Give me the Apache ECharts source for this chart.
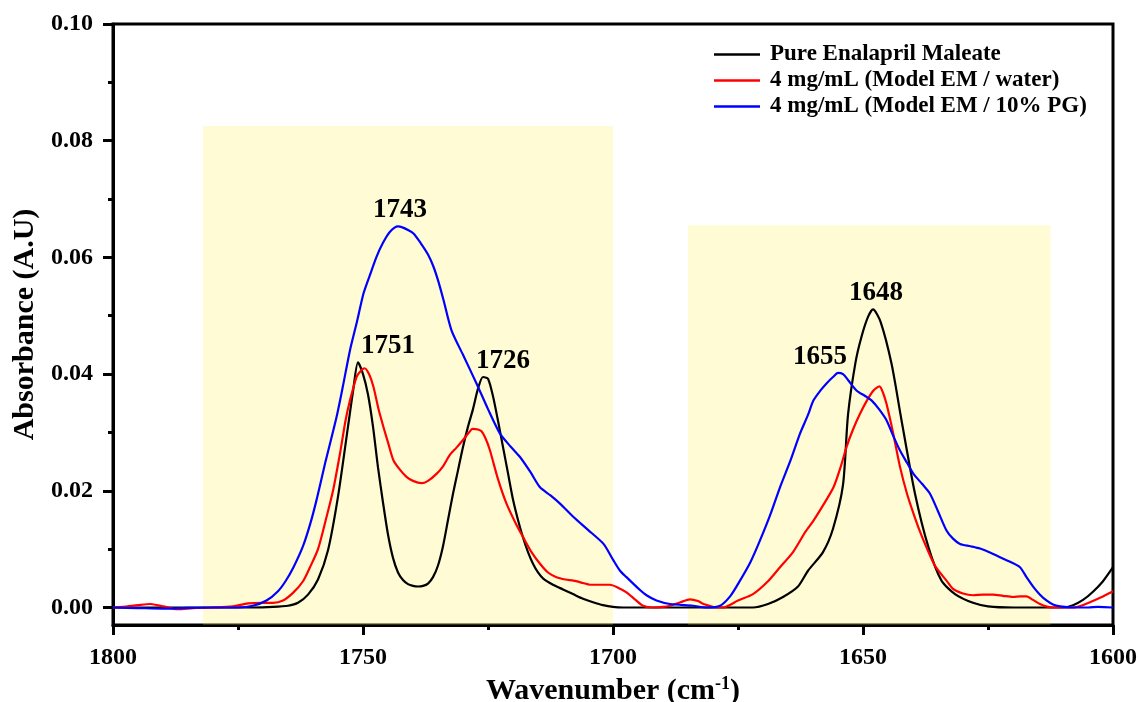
<!DOCTYPE html>
<html>
<head>
<meta charset="utf-8">
<script src="https://cdn.jsdelivr.net/npm/echarts@6/dist/echarts.min.js"></script>
<style>
  html, body { margin: 0; padding: 0; background: #fff; }
  #chart { width: 1141px; height: 702px; }
</style>
</head>
<body>
<div id="chart"></div>
<script>
// FTIR spectra in the carbonyl / amide region (1800–1600 cm-1)

const seriesNames = [
  'Pure Enalapril Maleate',
  '4 mg/mL (Model EM / water)',
  '4 mg/mL (Model EM / 10% PG)'
];

// Pure Enalapril Maleate
const pureWn = [1800, 1790, 1780, 1772, 1768, 1765, 1763, 1761, 1759, 1757, 1755, 1753, 1752, 1751, 1750, 1749, 1748, 1747, 1746, 1745, 1744, 1743, 1742, 1741, 1740, 1739, 1738, 1737, 1736, 1735, 1734, 1733, 1732, 1731, 1730, 1729, 1728, 1727, 1726, 1725, 1724, 1723, 1722, 1721, 1720, 1719, 1718, 1717, 1716, 1715, 1714, 1712, 1710, 1708, 1706, 1704, 1702, 1700, 1698, 1690, 1680, 1672, 1669, 1666, 1663, 1661, 1658, 1656, 1654, 1653, 1651.5, 1650.3, 1649, 1648, 1646.5, 1644.3, 1642.3, 1639.6, 1636.9, 1634.3, 1631.6, 1628, 1625, 1620, 1610, 1608, 1606, 1604, 1602, 1600];
const pureAbs = [0, 0, 0, 0, 0.0001, 0.0003, 0.0008, 0.0022, 0.0048, 0.0098, 0.019, 0.031, 0.037, 0.042, 0.040, 0.0365, 0.031, 0.024, 0.018, 0.0125, 0.0085, 0.006, 0.0047, 0.0040, 0.0037, 0.0036, 0.0037, 0.0041, 0.0052, 0.0072, 0.0105, 0.0150, 0.0195, 0.0235, 0.0275, 0.031, 0.034, 0.0375, 0.0395, 0.0392, 0.0362, 0.032, 0.0275, 0.023, 0.0185, 0.0150, 0.0120, 0.0095, 0.0075, 0.0060, 0.0050, 0.0039, 0.0031, 0.0023, 0.0015, 0.0009, 0.0004, 0.0001, 0, 0, 0, 0, 0.0006, 0.0018, 0.0036, 0.0063, 0.0095, 0.0135, 0.021, 0.033, 0.042, 0.0464, 0.0498, 0.0511, 0.049, 0.0418, 0.0321, 0.0195, 0.0103, 0.0046, 0.0023, 0.0008, 0.0002, 0, 0, 0.0004, 0.0013, 0.0027, 0.0045, 0.0069];

// 4 mg/mL (Model EM / water)
const waterWn = [1800, 1798, 1795, 1792.5, 1790, 1787, 1784, 1780, 1776, 1773, 1770, 1768, 1766, 1764, 1762, 1760.6, 1759, 1757.3, 1756, 1754.6, 1753.5, 1752.6, 1751.3, 1750.5, 1749.7, 1748.8, 1747.9, 1746.9, 1745.9, 1744.9, 1743.9, 1742.5, 1741.3, 1740, 1738.3, 1737, 1735.3, 1734, 1732.6, 1731.3, 1730, 1728.8, 1728.1, 1727, 1726.3, 1725.5, 1724.6, 1723, 1721.3, 1719.5, 1718, 1716.3, 1714.6, 1713, 1711.3, 1709.5, 1707.9, 1706, 1704.6, 1702.5, 1700.6, 1699, 1697.3, 1695.5, 1694, 1692, 1690, 1688.6, 1686.5, 1684.6, 1683, 1681.9, 1679.3, 1678, 1675, 1672, 1669, 1666.6, 1664, 1661.5, 1659.9, 1658, 1655.9, 1654.5, 1653.3, 1652, 1650.6, 1649.2, 1647.9, 1646.7, 1646, 1645.3, 1644, 1642.6, 1641.2, 1639.9, 1638.6, 1637.3, 1635.5, 1633.3, 1632, 1630, 1628, 1626, 1624, 1622, 1620, 1618.5, 1617.3, 1616, 1614.6, 1613, 1611.9, 1608, 1606, 1604.6, 1602.5, 1600];
const waterAbs = [0, 0.0001, 0.0004, 0.0006, 0.0002, -0.0003, -0.0001, 0, 0.0002, 0.0007, 0.0008, 0.0008, 0.0012, 0.0025, 0.0045, 0.0069, 0.0100, 0.0155, 0.0200, 0.0264, 0.0320, 0.0355, 0.0395, 0.0405, 0.0410, 0.0400, 0.0378, 0.0340, 0.0309, 0.0280, 0.0252, 0.0235, 0.0224, 0.0217, 0.0213, 0.0217, 0.0229, 0.0242, 0.0262, 0.0274, 0.0287, 0.0300, 0.0306, 0.0305, 0.0302, 0.0290, 0.0269, 0.0220, 0.0178, 0.0145, 0.0121, 0.0095, 0.0075, 0.0060, 0.0052, 0.0048, 0.0046, 0.0042, 0.0039, 0.0039, 0.0039, 0.0034, 0.0026, 0.0013, 0.0003, 0, 0.0001, 0.0003, 0.0009, 0.0014, 0.0011, 0.0006, 0, 0, 0.0012, 0.0023, 0.0045, 0.0069, 0.0095, 0.0130, 0.0149, 0.0175, 0.0206, 0.0240, 0.0275, 0.0305, 0.0332, 0.0355, 0.0372, 0.0379, 0.0368, 0.0349, 0.0300, 0.0241, 0.0195, 0.0161, 0.0130, 0.0103, 0.0070, 0.0046, 0.0032, 0.0024, 0.0021, 0.0022, 0.0022, 0.0020, 0.0018, 0.0019, 0.0019, 0.0013, 0.0006, 0.0001, 0, 0, 0.0004, 0.0009, 0.0017, 0.0028];

// 4 mg/mL (Model EM / 10% PG)
const pgWn = [1800, 1795, 1790, 1786, 1780, 1775, 1772, 1769.3, 1767, 1765.5, 1763.9, 1762, 1760.5, 1759.3, 1757.5, 1755.3, 1754, 1752.6, 1751.2, 1749.9, 1748.6, 1747.3, 1746, 1744.6, 1743, 1742, 1741, 1739.9, 1738.5, 1737, 1735.9, 1734.9, 1733.9, 1732.3, 1730, 1727.3, 1725, 1722.6, 1720.5, 1718.6, 1716.5, 1714.6, 1712.5, 1710.6, 1707.9, 1705, 1701.9, 1700, 1698.6, 1697.3, 1694.6, 1693.3, 1691.3, 1688.6, 1684, 1681.3, 1678.6, 1676.5, 1674.6, 1672.5, 1670.6, 1668.5, 1666.6, 1664.5, 1662.6, 1661, 1659.9, 1658.5, 1657.3, 1656, 1655, 1654, 1653, 1651.3, 1649.5, 1648.3, 1646.8, 1645.3, 1644, 1642.6, 1641.2, 1639.9, 1638.2, 1636.6, 1635, 1633.3, 1632, 1630.6, 1628.5, 1626.6, 1624.5, 1622.6, 1620.5, 1618.6, 1617.3, 1615.9, 1614.6, 1613.3, 1612, 1610.6, 1608, 1605, 1603, 1600];
const pgAbs = [0, -0.0001, -0.0002, -0.0001, 0, 0, 0.0003, 0.0012, 0.0028, 0.0045, 0.0069, 0.0105, 0.0145, 0.0184, 0.0250, 0.0326, 0.0380, 0.0441, 0.0490, 0.0538, 0.0570, 0.0601, 0.0625, 0.0644, 0.0653, 0.0651, 0.0647, 0.0641, 0.0625, 0.0605, 0.0584, 0.0558, 0.0527, 0.0475, 0.0433, 0.0384, 0.0340, 0.0298, 0.0276, 0.0258, 0.0232, 0.0206, 0.0192, 0.0178, 0.0155, 0.0133, 0.0109, 0.0082, 0.0063, 0.0052, 0.0030, 0.0021, 0.0012, 0.0006, 0.0003, 0, 0.0003, 0.0020, 0.0046, 0.0078, 0.0115, 0.0160, 0.0206, 0.0252, 0.0298, 0.0330, 0.0355, 0.0372, 0.0384, 0.0395, 0.0402, 0.0400, 0.0390, 0.0372, 0.0362, 0.0355, 0.0340, 0.0321, 0.0295, 0.0269, 0.0248, 0.0229, 0.0212, 0.0195, 0.0165, 0.0132, 0.0118, 0.0109, 0.0105, 0.0101, 0.0094, 0.0086, 0.0078, 0.0069, 0.0052, 0.0035, 0.0022, 0.0012, 0.0005, 0.0002, 0, 0, 0.0001, 0];

// Peak assignments: [series index, wavenumber]
const peakSeries = [0, 0, 0, 2, 2];
const peakWn = [1751, 1726, 1648, 1743, 1655];
// label offsets in px relative to the peak
const peakOffsetX = [30, 20, 3, 2, -18];
const peakOffsetY = [-16, -16, -16, -16, -16];

// Highlighted bands: [from wavenumber, to wavenumber, upper absorbance]
const bandFrom = [1782, 1685];
const bandTo = [1700, 1612.5];
const bandTop = [0.0825, 0.0655];

// Axis ranges and ticks
const xMin = 1600, xMax = 1800, xStep = 50;
const yMin = -0.003, yMax = 0.10;
const yMajorTicks = [0, 0.02, 0.04, 0.06, 0.08, 0.10];
const yMinorTicks = [0.01, 0.03, 0.05, 0.07, 0.09];

const colors = ['#000000', '#ff0000', '#0000ff'];
const wnData = [pureWn, waterWn, pgWn];
const absData = [pureAbs, waterAbs, pgAbs];

const FONT = '"Liberation Serif", "Times New Roman", serif';

function pairs(xs, ys) {
  return xs.map((x, i) => [x, ys[i]]);
}

const lineSeries = seriesNames.map((name, i) => ({
  name: name,
  type: 'line',
  xAxisIndex: 0,
  yAxisIndex: 0,
  data: pairs(wnData[i], absData[i]),
  symbol: 'none',
  showSymbol: false,
  smooth: 0.25,
  lineStyle: { color: colors[i], width: 2.2 },
  itemStyle: { color: colors[i] },
  z: 2
}));

const peakPoints = peakWn.map((w, k) => {
  const s = peakSeries[k];
  const idx = wnData[s].indexOf(w);
  return {
    name: String(w),
    coord: [w, absData[s][idx]],
    label: { offset: [peakOffsetX[k], peakOffsetY[k]] }
  };
});

const bandAreas = bandFrom.map((f, k) => [
  { coord: [f, bandTop[k]] },
  { coord: [bandTo[k], yMin] }
]);

// Translucent bands and peak labels drawn above the spectra
const overlaySeries = {
  name: 'bands',
  type: 'line',
  xAxisIndex: 0,
  yAxisIndex: 0,
  data: [],
  symbol: 'none',
  z: 10,
  silent: true,
  markArea: {
    silent: true,
    itemStyle: { color: 'rgba(255, 240, 45, 0.2)' },
    data: bandAreas
  },
  markPoint: {
    silent: true,
    symbol: 'circle',
    symbolSize: 0,
    label: {
      show: true,
      position: 'inside',
      formatter: '{b}',
      color: '#000',
      fontFamily: FONT,
      fontWeight: 'bold',
      fontSize: 27
    },
    data: peakPoints
  }
};

const chart = echarts.init(document.getElementById('chart'), null, { renderer: 'canvas' });

chart.setOption({
  animation: false,
  backgroundColor: '#ffffff',
  grid: {
    left: 113, right: 28, top: 24, bottom: 77,
    outerBoundsMode: 'none',
    containLabel: false,
    show: true,
    borderColor: '#000',
    borderWidth: 3,
    backgroundColor: 'transparent'
  },
  legend: {
    data: seriesNames,
    orient: 'vertical',
    left: 709,
    top: 38,
    icon: 'rect',
    itemWidth: 46,
    itemHeight: 2.5,
    itemGap: 3,
    selectedMode: false,
    textStyle: {
      fontFamily: FONT,
      fontWeight: 'bold',
      fontSize: 23,
      color: '#000',
      lineHeight: 20,
      padding: [0, 0, 0, 5]
    }
  },
  xAxis: [{
    type: 'value',
    min: xMin,
    max: xMax,
    interval: xStep,
    inverse: true,
    name: 'Wavenumber (cm{sup|-1})',
    nameLocation: 'middle',
    nameGap: 46,
    nameTextStyle: {
      fontFamily: FONT,
      fontWeight: 'bold',
      fontSize: 30,
      color: '#000',
      rich: {
        sup: {
          fontFamily: FONT,
          fontWeight: 'bold',
          fontSize: 18,
          color: '#000',
          padding: [0, 0, 15, 0]
        }
      }
    },
    axisLine: { show: true, onZero: false, lineStyle: { color: '#000', width: 3 } },
    axisTick: { show: true, inside: false, length: 10, lineStyle: { color: '#000', width: 3 } },
    minorTick: { show: true, splitNumber: 2, length: 5, lineStyle: { color: '#000', width: 3 } },
    axisLabel: {
      margin: 21,
      fontFamily: FONT,
      fontWeight: 'bold',
      fontSize: 24,
      color: '#000',
      formatter: v => String(v)
    },
    splitLine: { show: false },
    minorSplitLine: { show: false }
  }],
  yAxis: [{
    type: 'value',
    position: 'left',
    min: yMin,
    max: yMax,
    name: 'Absorbance (A.U)',
    nameLocation: 'middle',
    nameGap: 72,
    nameRotate: 90,
    nameTextStyle: {
      fontFamily: FONT,
      fontWeight: 'bold',
      fontSize: 30,
      color: '#000'
    },
    axisLine: { show: true, onZero: false, lineStyle: { color: '#000', width: 3 } },
    axisTick: {
      show: true, inside: false, length: 10,
      customValues: yMajorTicks,
      lineStyle: { color: '#000', width: 3 }
    },
    axisLabel: {
      customValues: yMajorTicks,
      margin: 20,
      fontFamily: FONT,
      fontWeight: 'bold',
      fontSize: 24,
      color: '#000',
      formatter: v => v.toFixed(2)
    },
    splitLine: { show: false }
  }, {
    // minor ticks on the absorbance axis
    type: 'value',
    position: 'left',
    offset: 0,
    min: yMin,
    max: yMax,
    axisLine: { show: false },
    axisTick: {
      show: true, inside: false, length: 5,
      customValues: yMinorTicks,
      lineStyle: { color: '#000', width: 3 }
    },
    axisLabel: { show: false },
    splitLine: { show: false }
  }],
  series: lineSeries.concat([overlaySeries])
});
</script>
</body>
</html>
